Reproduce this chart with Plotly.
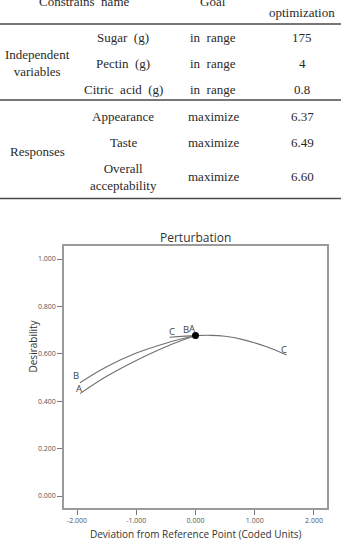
import plotly.graph_objects as go

# ---------------- data ----------------
# Table
header_labels = ["Constrains\u00a0 name", "Goal", "optimization"]
group_labels = ["Independent<br>variables", "Responses"]
var_names = ["Sugar\u00a0 (g)", "Pectin\u00a0 (g)", "Citric\u00a0 acid\u00a0 (g)"]
var_goals = ["in\u00a0 range", "in\u00a0 range", "in\u00a0 range"]
var_values = ["175", "4", "0.8"]
resp_names = ["Appearance", "Taste", "Overall<br>acceptability"]
resp_goals = ["maximize", "maximize", "maximize"]
resp_values = ["6.37", "6.49", "6.60"]

# Perturbation curves (deviation in coded units, desirability)
a_x = [-1.95, -1.5, -1.0, -0.5, 0.0]
a_y = [0.432, 0.505, 0.572, 0.630, 0.677]
b_x = [-1.95, -1.5, -1.0, -0.5, 0.0]
b_y = [0.478, 0.545, 0.603, 0.645, 0.677]
c_x = [-0.44, 0.0, 0.25, 0.5, 0.8, 1.2, 1.54]
c_y = [0.670, 0.677, 0.678, 0.674, 0.660, 0.630, 0.595]
ref_x = [0.0]
ref_y = [0.677]

x_tickvals = [-2, -1, 0, 1, 2]
x_ticktext = ["-2.000", "-1.000", "0.000", "1.000", "2.000"]
y_tickvals = [0, 0.2, 0.4, 0.6, 0.8, 1.0]
y_ticktext = ["0.000", "0.200", "0.400", "0.600", "0.800", "1.000"]

# ---------------- figure ----------------
W, H = 341, 549
def py(px):
    return 1 - px / H
def pxx(px):
    return px / W

fig = go.Figure()
line_col = "#707070"
for xs, ys in [(a_x, a_y), (b_x, b_y), (c_x, c_y)]:
    fig.add_trace(go.Scatter(x=xs, y=ys, mode="lines",
                             line=dict(color=line_col, width=1.1, shape="spline"),
                             hoverinfo="skip", showlegend=False))
fig.add_trace(go.Scatter(x=ref_x, y=ref_y, mode="markers",
                         marker=dict(color="black", size=7),
                         showlegend=False))

annotations = []
lab_font = dict(family="Open Sans, DejaVu Sans", size=9.5, color="#444")
# curve end labels: (name, x list, y list, index, xshift, yshift)
for name, xs, ys, idx, xs_, ys_ in [
    ("A", a_x, a_y, 0, -1, 5),
    ("B", b_x, b_y, 0, -4, 7),
    ("A", a_x, a_y, -1, -4, 7),
    ("B", b_x, b_y, -1, -10, 6),
    ("C", c_x, c_y, 0, 3, 6),
    ("C", c_x, c_y, -1, -3, 6),
]:
    annotations.append(dict(x=xs[idx], y=ys[idx], xref="x", yref="y", text=name,
                            showarrow=False, xshift=xs_, yshift=ys_,
                            font=lab_font))

# chart title & axis titles
annotations.append(dict(x=pxx(195.5), y=py(238), xref="paper", yref="paper",
                        text="Perturbation", showarrow=False,
                        font=dict(family="Open Sans, DejaVu Sans", size=12, color="#333")))
annotations.append(dict(x=pxx(23), y=py(375), xref="paper", yref="paper",
                        text="Desirability", showarrow=False, textangle=-90,
                        font=dict(family="Open Sans, DejaVu Sans", size=10, color="#333")))
annotations.append(dict(x=pxx(195.5), y=py(543), xref="paper", yref="paper",
                        text="Deviation from Reference Point (Coded Units)", showarrow=False,
                        font=dict(family="Open Sans, DejaVu Sans", size=10, color="#333")))

# table text
tfont = dict(family="Liberation Serif, Times New Roman, serif", size=13, color="#2a2a2a")
col_x = [37, 123, 213, 302]
def tab(text, cx, cy):
    annotations.append(dict(x=pxx(cx), y=py(cy), xref="paper", yref="paper",
                            text=text, showarrow=False, xanchor="center", yanchor="middle",
                            font=tfont))

tab(header_labels[0], 84, 2)
tab(header_labels[1], col_x[2], 2)
tab(header_labels[2], col_x[3], 12)

tab(group_labels[0], col_x[0], 63)
var_rows = [37.7, 63.3, 90]
for i, yy in enumerate(var_rows):
    tab(var_names[i], col_x[1], yy)
    tab(var_goals[i], col_x[2], yy)
    tab(var_values[i], col_x[3], yy)

tab(group_labels[1], col_x[0], 151.7)
resp_rows = [116.7, 142.3, 176.7]
for i, yy in enumerate(resp_rows):
    tab(resp_names[i], col_x[1], yy)
    tab(resp_goals[i], col_x[2], yy)
    tab(resp_values[i], col_x[3], yy)

shapes = []
for ypx in [24, 100, 198.5]:
    shapes.append(dict(type="line", xref="paper", yref="paper", x0=0, x1=1,
                       y0=py(ypx), y1=py(ypx), line=dict(color="#4a4a4a", width=1.6)))

axis_common = dict(showgrid=False, zeroline=False, showline=True, mirror=True,
                   linecolor="#9a9a9a", linewidth=1.5, ticks="outside", ticklen=5,
                   tickcolor="#777", tickwidth=1,
                   tickfont=dict(family="Open Sans, DejaVu Sans", size=7, color="#555"))

fig.update_layout(
    width=W, height=H,
    margin=dict(l=0, r=0, t=0, b=0),
    paper_bgcolor="white", plot_bgcolor="white",
    xaxis=dict(domain=[pxx(64), pxx(327)], range=[-2.22, 2.22],
               tickvals=x_tickvals, ticktext=x_ticktext, **axis_common),
    yaxis=dict(domain=[py(508), py(246)], range=[-0.0506, 1.055],
               tickvals=y_tickvals, ticktext=y_ticktext, **axis_common),
    annotations=annotations,
    shapes=shapes,
    showlegend=False,
)

fig.write_html("out.html")
